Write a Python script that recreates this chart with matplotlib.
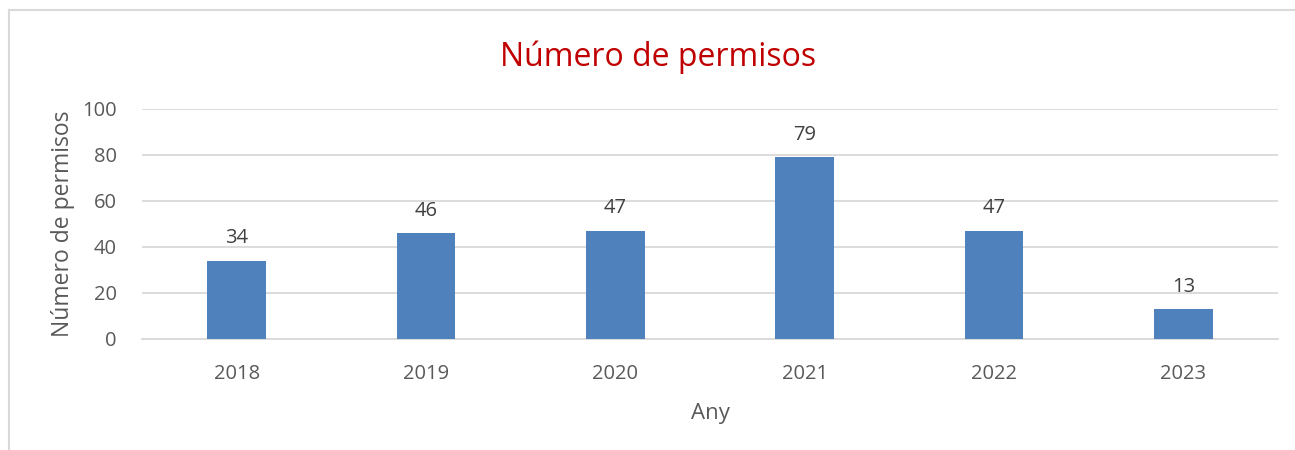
import matplotlib
matplotlib.use("Agg")
import matplotlib.pyplot as plt
from matplotlib.lines import Line2D

years = ["2018", "2019", "2020", "2021", "2022", "2023"]
values = [34, 46, 47, 79, 47, 13]
yticks = [0, 20, 40, 60, 80, 100]

plt.rcParams['font.family'] = ['Open Sans', 'DejaVu Sans']
txt = '#595959'

fig = plt.figure(figsize=(12.95, 4.5), dpi=100)
ax = fig.add_axes([142/1295, 1-339/450, (1278-142)/1295, (339-109)/450])

x = range(len(years))
ax.bar(x, values, width=0.31, color='#4F81BD', zorder=3)
for xi, v in zip(x, values):
    ax.annotate(str(v), (xi, v), xytext=(0, 9), textcoords='offset points',
                ha='center', va='bottom', fontsize=14.5, color='#404040')

ax.set_xlim(-0.5, len(years) - 0.5)
ax.set_ylim(0, 100)
ax.set_yticks(yticks)
ax.set_xticks(list(x))
ax.set_xticklabels(years)
ax.grid(axis='y', color='#D9D9D9', linewidth=1.3, zorder=0)
for s in ['top', 'right', 'left']:
    ax.spines[s].set_visible(False)
ax.spines['bottom'].set_color('#D9D9D9')
ax.spines['bottom'].set_linewidth(1.3)
ax.tick_params(axis='both', length=0, labelsize=14.5, labelcolor=txt)
ax.tick_params(axis='y', pad=18)
ax.tick_params(axis='x', pad=18)
ax.set_xlabel('Any', fontsize=16, color=txt, labelpad=14)
ax.set_ylabel('Número de permisos', fontsize=16.5, color=txt, labelpad=5)
fig.text(658/1295, 1-57/450, 'Número de permisos', ha='center', va='center',
         fontsize=23, color='#C00000')

# chart frame
fig.add_artist(Line2D([9/1295, 9/1295], [0, 1-10/450], transform=fig.transFigure,
                      color='#D9D9D9', linewidth=1.5))
fig.add_artist(Line2D([9/1295, 1], [1-10/450, 1-10/450], transform=fig.transFigure,
                      color='#D9D9D9', linewidth=1.5))

fig.savefig('out.png', dpi=100, facecolor='white')
